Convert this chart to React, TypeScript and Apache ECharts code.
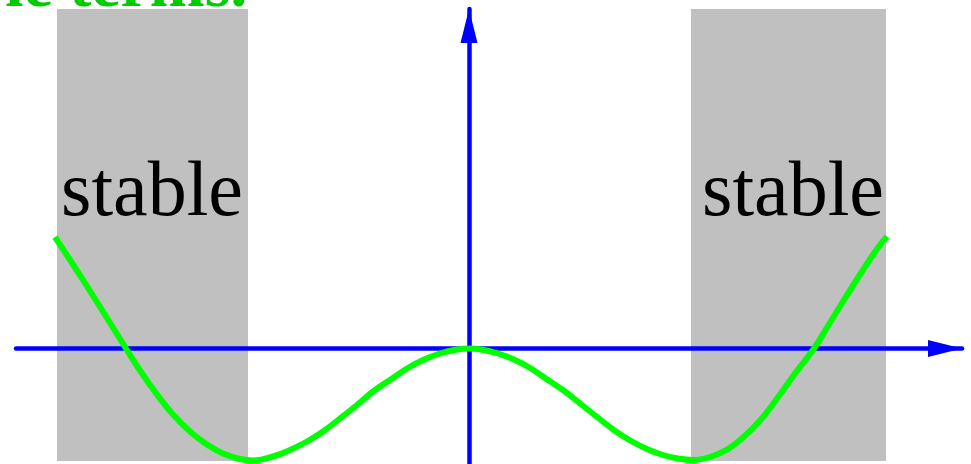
import React, { useEffect, useRef } from "react";
import * as echarts from "echarts";

// Curve samples (x relative to vertical axis, y relative to horizontal axis)
const curveX = [
  -414, -396, -379, -362, -343, -329, -312, -296, -279, -262, -246, -229, -216,
  -196, -179, -162, -146, -129, -112, -96, -79, -62, -46, -29, -12, 0,
  12, 29, 46, 62, 79, 96, 113, 130, 147, 163, 179, 194, 209, 224, 241, 258,
  274, 291, 308, 326, 345, 358, 374, 391, 408, 418,
];
const curveY = [
  111.5, 84, 57.5, 30.5, 0, -22, -46, -66, -83, -96, -105, -110.5, -112,
  -108, -101.5, -93, -83, -70, -56.5, -43, -31.5, -20, -11.5, -5, -1, 0,
  -1, -5, -11.5, -20, -31.5, -43, -56.5, -70, -83, -93, -101, -106.5, -110, -111.5, -108.5, -101,
  -89, -72, -50, -25, 0, 21, 47, 74, 99.5, 112,
];

// Shaded "stable" regions
const zoneStart = [-412, 222];
const zoneEnd = [-221, 417];
const zoneTop = 339.5;
const zoneBottom = -112.5;

// Labels (baseline position in data units)
const labelText = ["stable", "stable"];
const labelX = [-317, 324];
const labelY = [134.5, 134.5];

const titleText = "le terms.";

const SERIF = "Liberation Serif";

export default function App() {
  const ref = useRef<HTMLDivElement>(null);
  useEffect(() => {
    if (!ref.current) return;
    const chart = echarts.init(ref.current, null, { renderer: "svg" });
    const curve = curveX.map((x, i) => [x, curveY[i]]);
    const zones = zoneStart.map((s, i) => [
      { xAxis: s, yAxis: zoneBottom },
      { xAxis: zoneEnd[i], yAxis: zoneTop },
    ]);
    const axisLine = {
      show: true,
      onZero: true,
      lineStyle: { color: "#0000ff", width: 4.5 },
      symbol: ["none", "triangle"],
      symbolSize: [17, 34],
      symbolOffset: [0, -17],
    };
    chart.setOption({
      animation: false,
      grid: { left: 16, right: 9, top: 9, bottom: 0, containLabel: false },
      xAxis: {
        type: "value",
        min: -453,
        max: 493,
        z: 5,
        axisLine,
        axisTick: { show: false },
        axisLabel: { show: false },
        splitLine: { show: false },
      },
      yAxis: {
        type: "value",
        min: -115.5,
        max: 339.5,
        z: 5,
        axisLine,
        axisTick: { show: false },
        axisLabel: { show: false },
        splitLine: { show: false },
      },
      series: [
        {
          type: "line",
          z: 1,
          data: [],
          silent: true,
          markArea: {
            silent: true,
            itemStyle: { color: "#c0c0c0", opacity: 1 },
            data: zones,
          },
        },
        {
          type: "line",
          z: 10,
          data: curve,
          smooth: 0.4,
          symbol: "none",
          lineStyle: { color: "#00ff00", width: 6 },
        },
      ],
    });
    const labels = labelText.map((t, i) => {
      const p = chart.convertToPixel({ gridIndex: 0 }, [labelX[i], labelY[i]]) as number[];
      return {
        type: "text",
        x: p[0],
        y: p[1] - 26,
        z: 3,
        style: {
          text: t,
          fill: "#000000",
          fontSize: 78,
          fontFamily: SERIF,
          textAlign: "center",
          textVerticalAlign: "middle",
        },
      };
    });
    chart.setOption({
      graphic: [
        {
          type: "text",
          x: 247,
          y: -17,
          style: {
            text: titleText,
            fill: "#00cc00",
            fontSize: 66,
            fontWeight: "bold",
            fontFamily: SERIF,
            textAlign: "right",
            textVerticalAlign: "middle",
          },
        },
        ...labels,
      ],
    });
    return () => chart.dispose();
  }, []);
  return (
    <div
      ref={ref}
      style={{ position: "fixed", left: 0, top: 0, width: 971, height: 464, background: "#ffffff" }}
    />
  );
}
